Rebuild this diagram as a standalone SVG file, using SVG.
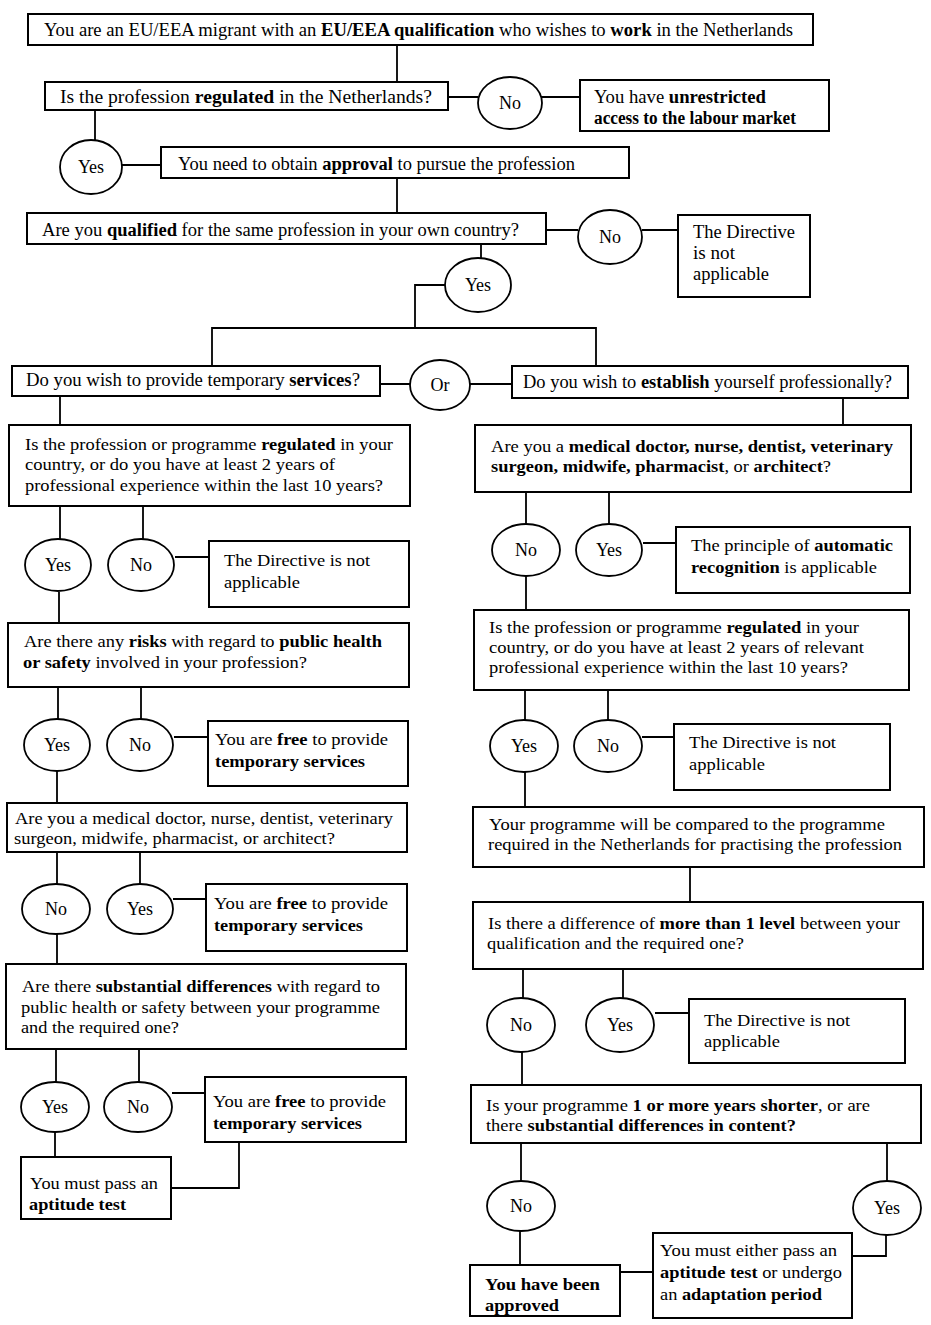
<svg xmlns="http://www.w3.org/2000/svg" width="931" height="1325" viewBox="0 0 931 1325">
<style>
.b{fill:#fff;stroke:#000;stroke-width:2}
.e{fill:#fff;stroke:#000;stroke-width:1.8}
.c{fill:none;stroke:#000;stroke-width:1.8}
text{font-family:"Liberation Serif","Times New Roman",serif;font-size:17px;fill:#000}
.t{font-size:18px}
.lb{text-anchor:middle;font-size:18px}
.bd{font-weight:bold}
</style>
<rect width="931" height="1325" fill="#fff"/>
<g id="connectors">
<path class="c" d="M397 45V82M448 97H478M541 97H580M95 110V140M122 165H161M397 178V213M546 230H578M642 230H678M481 244V259M445 285H415V328M212 366V328H596V366M380 384H410M470 384H512M60 396V425M843 398V425"/>
<path class="c" d="M60 506V540M143 506V540M175 557H209M59 592V623M58 687V720M141 687V720M174 737H208M57 770V803M57 852V884M140 852V884M173 899H206M57 934V964M56 1049V1082M139 1049V1082M172 1093H205M55 1132V1157M171 1188H239V1142"/>
<path class="c" d="M526 492V525M609 492V525M643 543H676M526 576V610M525 690V722M608 690V722M642 737H674M525 772V807M690 867V902M523 969V999M623 969V999M655 1013H689M522 1052V1085M521 1143V1181M887 1143V1181M520 1231V1265M886 1235V1256H852M620 1272H653"/>
</g>
<g id="start"><rect class="b" x="28" y="14" width="785" height="31"/>
<text class="t" x="44" y="36" textLength="749" lengthAdjust="spacingAndGlyphs">You are an EU/EEA migrant with an <tspan class="bd">EU/EEA qualification</tspan> who wishes to <tspan class="bd">work</tspan> in the Netherlands</text></g>
<g id="q-regulated"><rect class="b" x="45" y="82" width="403" height="28"/>
<text class="t" x="60" y="103" textLength="372" lengthAdjust="spacingAndGlyphs">Is the profession <tspan class="bd">regulated</tspan> in the Netherlands?</text></g>
<g id="no1"><ellipse class="e" cx="510" cy="103" rx="32" ry="26"/><text class="lb" x="510" y="109">No</text></g>
<g id="unrestricted"><rect class="b" x="580" y="80" width="249" height="51"/>
<text class="t" x="594" y="103" textLength="172" lengthAdjust="spacingAndGlyphs">You have <tspan class="bd">unrestricted</tspan></text>
<text class="t bd" x="594" y="124" textLength="202" lengthAdjust="spacingAndGlyphs">access to the labour market</text></g>
<g id="yes1"><ellipse class="e" cx="91" cy="167" rx="31" ry="27"/><text class="lb" x="91" y="173">Yes</text></g>
<g id="approval"><rect class="b" x="161" y="147" width="468" height="31"/>
<text class="t" x="178" y="170" textLength="397" lengthAdjust="spacingAndGlyphs">You need to obtain <tspan class="bd">approval</tspan> to pursue the profession</text></g>
<g id="q-qualified"><rect class="b" x="27" y="213" width="519" height="31"/>
<text class="t" x="42" y="236" textLength="477" lengthAdjust="spacingAndGlyphs">Are you <tspan class="bd">qualified</tspan> for the same profession in your own country?</text></g>
<g id="no2"><ellipse class="e" cx="610" cy="237" rx="32" ry="27"/><text class="lb" x="610" y="243">No</text></g>
<g id="na1"><rect class="b" x="678" y="215" width="132" height="82"/>
<text class="t" x="693" y="238" textLength="102" lengthAdjust="spacingAndGlyphs">The Directive</text>
<text class="t" x="693" y="259" textLength="42" lengthAdjust="spacingAndGlyphs">is not</text>
<text class="t" x="693" y="280" textLength="76" lengthAdjust="spacingAndGlyphs">applicable</text></g>
<g id="yes2"><ellipse class="e" cx="478" cy="285" rx="33" ry="27"/><text class="lb" x="478" y="291">Yes</text></g>
<g id="q-temporary"><rect class="b" x="12" y="366" width="368" height="30"/>
<text class="t" x="26" y="386" textLength="334" lengthAdjust="spacingAndGlyphs">Do you wish to provide temporary <tspan class="bd">services</tspan>?</text></g>
<g id="or"><ellipse class="e" cx="440" cy="385" rx="30" ry="25"/><text class="lb" x="440" y="391">Or</text></g>
<g id="q-establish"><rect class="b" x="512" y="366" width="396" height="32"/>
<text class="t" x="523" y="388" textLength="369" lengthAdjust="spacingAndGlyphs">Do you wish to <tspan class="bd">establish</tspan> yourself professionally?</text></g>

<g id="l-q1"><rect class="b" x="9" y="425" width="401" height="81"/>
<text x="25" y="450" textLength="368" lengthAdjust="spacingAndGlyphs">Is the profession or programme <tspan class="bd">regulated</tspan> in your</text>
<text x="25" y="470" textLength="310" lengthAdjust="spacingAndGlyphs">country, or do you have at least 2 years of</text>
<text x="25" y="491" textLength="358" lengthAdjust="spacingAndGlyphs">professional experience within the last 10 years?</text></g>
<g id="l-yes1"><ellipse class="e" cx="58" cy="565" rx="33" ry="26"/><text class="lb" x="58" y="571">Yes</text></g>
<g id="l-no1"><ellipse class="e" cx="141" cy="565" rx="33" ry="26"/><text class="lb" x="141" y="571">No</text></g>
<g id="l-na1"><rect class="b" x="209" y="541" width="200" height="66"/>
<text x="224" y="566" textLength="146" lengthAdjust="spacingAndGlyphs">The Directive is not</text>
<text x="224" y="588" textLength="76" lengthAdjust="spacingAndGlyphs">applicable</text></g>
<g id="l-q2"><rect class="b" x="8" y="623" width="401" height="64"/>
<text x="24" y="647" textLength="358" lengthAdjust="spacingAndGlyphs">Are there any <tspan class="bd">risks</tspan> with regard to <tspan class="bd">public health</tspan></text>
<text x="23" y="668" textLength="284" lengthAdjust="spacingAndGlyphs"><tspan class="bd">or safety</tspan> involved in your profession?</text></g>
<g id="l-yes2"><ellipse class="e" cx="57" cy="745" rx="33" ry="26"/><text class="lb" x="57" y="751">Yes</text></g>
<g id="l-no2"><ellipse class="e" cx="140" cy="745" rx="33" ry="26"/><text class="lb" x="140" y="751">No</text></g>
<g id="l-free1"><rect class="b" x="208" y="721" width="200" height="65"/>
<text x="215" y="745" textLength="173" lengthAdjust="spacingAndGlyphs">You are <tspan class="bd">free</tspan> to provide</text>
<text class="bd" x="215" y="767" textLength="150" lengthAdjust="spacingAndGlyphs">temporary services</text></g>
<g id="l-q3"><rect class="b" x="7" y="803" width="400" height="49"/>
<text x="15" y="824" textLength="378" lengthAdjust="spacingAndGlyphs">Are you a medical doctor, nurse, dentist, veterinary</text>
<text x="14" y="844" textLength="321" lengthAdjust="spacingAndGlyphs">surgeon, midwife, pharmacist, or architect?</text></g>
<g id="l-no3"><ellipse class="e" cx="56" cy="909" rx="34" ry="25"/><text class="lb" x="56" y="915">No</text></g>
<g id="l-yes3"><ellipse class="e" cx="140" cy="909" rx="33" ry="25"/><text class="lb" x="140" y="915">Yes</text></g>
<g id="l-free2"><rect class="b" x="206" y="884" width="201" height="67"/>
<text x="214" y="909" textLength="174" lengthAdjust="spacingAndGlyphs">You are <tspan class="bd">free</tspan> to provide</text>
<text class="bd" x="214" y="931" textLength="149" lengthAdjust="spacingAndGlyphs">temporary services</text></g>
<g id="l-q4"><rect class="b" x="6" y="964" width="400" height="85"/>
<text x="22" y="992" textLength="358" lengthAdjust="spacingAndGlyphs">Are there <tspan class="bd">substantial differences</tspan> with regard to</text>
<text x="21" y="1013" textLength="359" lengthAdjust="spacingAndGlyphs">public health or safety between your programme</text>
<text x="21" y="1033" textLength="158" lengthAdjust="spacingAndGlyphs">and the required one?</text></g>
<g id="l-yes4"><ellipse class="e" cx="55" cy="1107" rx="34" ry="25"/><text class="lb" x="55" y="1113">Yes</text></g>
<g id="l-no4"><ellipse class="e" cx="138" cy="1107" rx="34" ry="25"/><text class="lb" x="138" y="1113">No</text></g>
<g id="l-free3"><rect class="b" x="205" y="1077" width="201" height="65"/>
<text x="213" y="1107" textLength="173" lengthAdjust="spacingAndGlyphs">You are <tspan class="bd">free</tspan> to provide</text>
<text class="bd" x="213" y="1129" textLength="149" lengthAdjust="spacingAndGlyphs">temporary services</text></g>
<g id="l-aptitude"><rect class="b" x="21" y="1157" width="150" height="62"/>
<text x="30" y="1189" textLength="128" lengthAdjust="spacingAndGlyphs">You must pass an</text>
<text class="bd" x="29" y="1210" textLength="97" lengthAdjust="spacingAndGlyphs">aptitude test</text></g>

<g id="r-q1"><rect class="b" x="475" y="425" width="436" height="67"/>
<text x="491" y="452" textLength="402" lengthAdjust="spacingAndGlyphs">Are you a <tspan class="bd">medical doctor, nurse, dentist, veterinary</tspan></text>
<text x="491" y="472" textLength="340" lengthAdjust="spacingAndGlyphs"><tspan class="bd">surgeon, midwife, pharmacist</tspan>, or <tspan class="bd">architect</tspan>?</text></g>
<g id="r-no1"><ellipse class="e" cx="526" cy="550" rx="34" ry="26"/><text class="lb" x="526" y="556">No</text></g>
<g id="r-yes1"><ellipse class="e" cx="609" cy="550" rx="33" ry="26"/><text class="lb" x="609" y="556">Yes</text></g>
<g id="r-auto"><rect class="b" x="676" y="527" width="234" height="66"/>
<text x="691" y="551" textLength="202" lengthAdjust="spacingAndGlyphs">The principle of <tspan class="bd">automatic</tspan></text>
<text x="691" y="573" textLength="186" lengthAdjust="spacingAndGlyphs"><tspan class="bd">recognition</tspan> is applicable</text></g>
<g id="r-q2"><rect class="b" x="474" y="610" width="435" height="80"/>
<text x="489" y="633" textLength="370" lengthAdjust="spacingAndGlyphs">Is the profession or programme <tspan class="bd">regulated</tspan> in your</text>
<text x="489" y="653" textLength="375" lengthAdjust="spacingAndGlyphs">country, or do you have at least 2 years of relevant</text>
<text x="489" y="673" textLength="359" lengthAdjust="spacingAndGlyphs">professional experience within the last 10 years?</text></g>
<g id="r-yes2"><ellipse class="e" cx="524" cy="746" rx="34" ry="26"/><text class="lb" x="524" y="752">Yes</text></g>
<g id="r-no2"><ellipse class="e" cx="608" cy="746" rx="34" ry="26"/><text class="lb" x="608" y="752">No</text></g>
<g id="r-na1"><rect class="b" x="674" y="724" width="216" height="66"/>
<text x="689" y="748" textLength="147" lengthAdjust="spacingAndGlyphs">The Directive is not</text>
<text x="689" y="770" textLength="76" lengthAdjust="spacingAndGlyphs">applicable</text></g>
<g id="r-compare"><rect class="b" x="473" y="807" width="451" height="60"/>
<text x="489" y="830" textLength="396" lengthAdjust="spacingAndGlyphs">Your programme will be compared to the programme</text>
<text x="488" y="850" textLength="414" lengthAdjust="spacingAndGlyphs">required in the Netherlands for practising the profession</text></g>
<g id="r-q3"><rect class="b" x="473" y="902" width="450" height="67"/>
<text x="488" y="929" textLength="412" lengthAdjust="spacingAndGlyphs">Is there a difference of <tspan class="bd">more than 1 level</tspan> between your</text>
<text x="487" y="949" textLength="257" lengthAdjust="spacingAndGlyphs">qualification and the required one?</text></g>
<g id="r-no3"><ellipse class="e" cx="521" cy="1025" rx="34" ry="27"/><text class="lb" x="521" y="1031">No</text></g>
<g id="r-yes3"><ellipse class="e" cx="620" cy="1025" rx="34" ry="27"/><text class="lb" x="620" y="1031">Yes</text></g>
<g id="r-na2"><rect class="b" x="689" y="999" width="216" height="64"/>
<text x="704" y="1026" textLength="146" lengthAdjust="spacingAndGlyphs">The Directive is not</text>
<text x="704" y="1047" textLength="76" lengthAdjust="spacingAndGlyphs">applicable</text></g>
<g id="r-q4"><rect class="b" x="471" y="1085" width="450" height="58"/>
<text x="486" y="1111" textLength="384" lengthAdjust="spacingAndGlyphs">Is your programme <tspan class="bd">1 or more years shorter</tspan>, or are</text>
<text x="486" y="1131" textLength="310" lengthAdjust="spacingAndGlyphs">there <tspan class="bd">substantial differences in content?</tspan></text></g>
<g id="r-no4"><ellipse class="e" cx="521" cy="1206" rx="34" ry="25"/><text class="lb" x="521" y="1212">No</text></g>
<g id="r-yes4"><ellipse class="e" cx="887" cy="1208" rx="34" ry="27"/><text class="lb" x="887" y="1214">Yes</text></g>
<g id="r-either"><rect class="b" x="653" y="1233" width="199" height="85"/>
<text x="660" y="1256" textLength="177" lengthAdjust="spacingAndGlyphs">You must either pass an</text>
<text x="660" y="1278" textLength="182" lengthAdjust="spacingAndGlyphs"><tspan class="bd">aptitude test</tspan> or undergo</text>
<text x="660" y="1300" textLength="162" lengthAdjust="spacingAndGlyphs">an <tspan class="bd">adaptation period</tspan></text></g>
<g id="r-approved"><rect class="b" x="470" y="1265" width="150" height="51"/>
<text class="bd" x="485" y="1290" textLength="115" lengthAdjust="spacingAndGlyphs">You have been</text>
<text class="bd" x="485" y="1311" textLength="74" lengthAdjust="spacingAndGlyphs">approved</text></g>
</svg>
